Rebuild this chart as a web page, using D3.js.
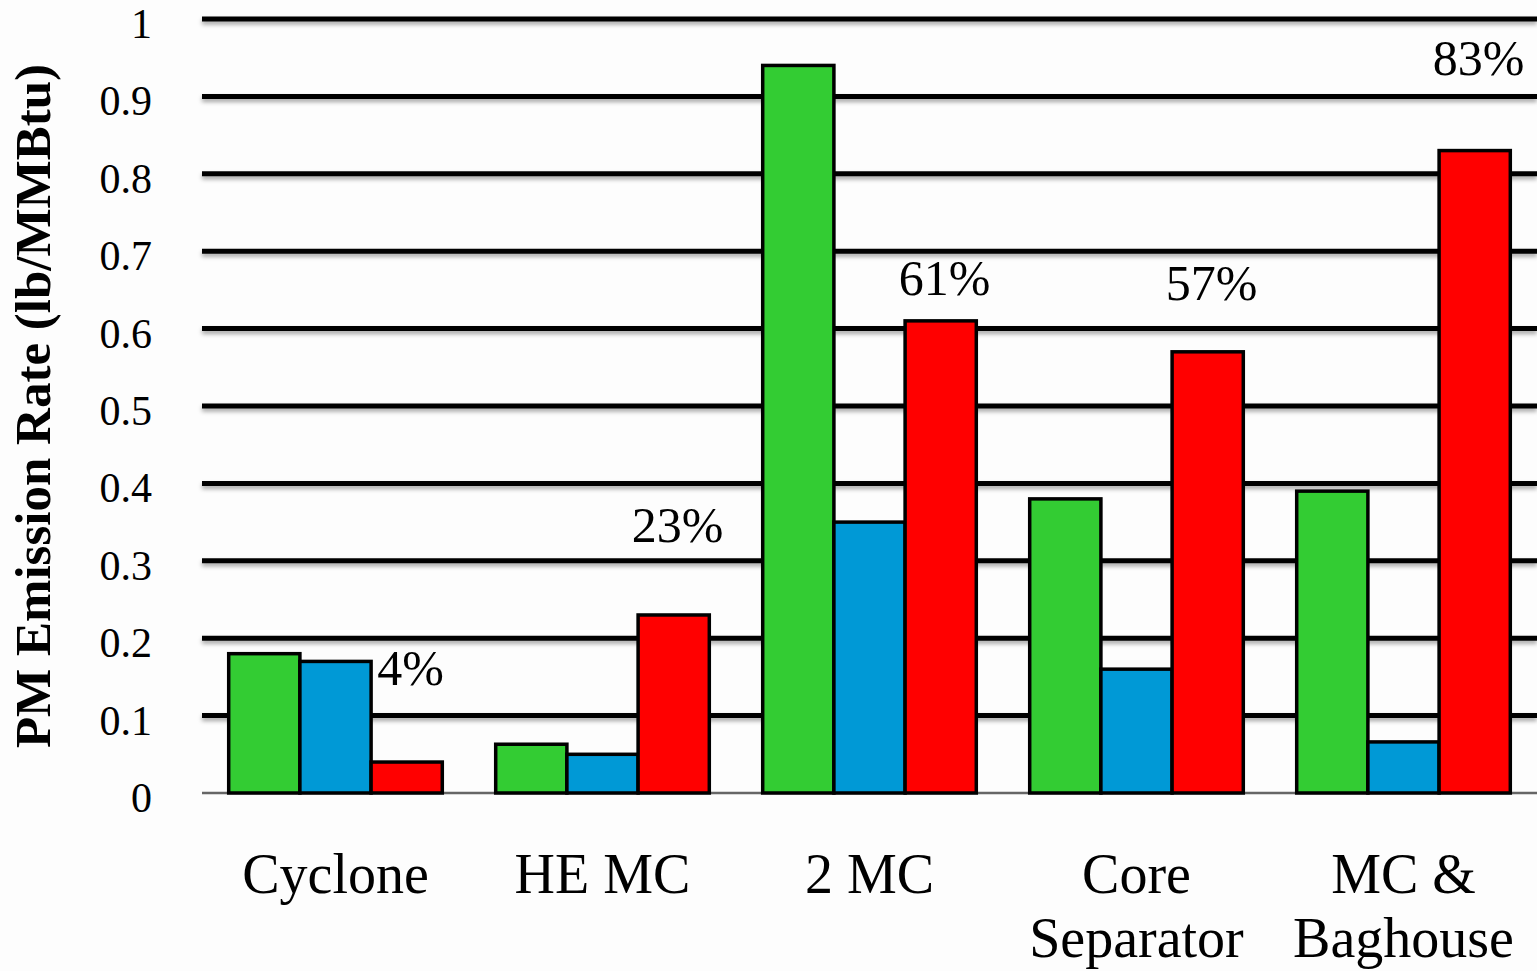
<!DOCTYPE html>
<html>
<head>
<meta charset="utf-8">
<script src="https://cdn.jsdelivr.net/npm/d3@7"></script>
<style>
  html, body { margin: 0; padding: 0; background: #ffffff; }
  svg { display: block; }
</style>
</head>
<body>
<svg id="chart" width="1537" height="971"></svg>
<script>
// ---- data ----
const categories = [["Cyclone"], ["HE MC"], ["2 MC"], ["Core", "Separator"], ["MC &", "Baghouse"]];
const seriesNames = ["Series A", "Series B", "Series C"];
const seriesA = [0.18, 0.063, 0.94, 0.38, 0.39];   // green
const seriesB = [0.17, 0.05, 0.35, 0.16, 0.066];   // blue
const seriesC = [0.04, 0.23, 0.61, 0.57, 0.83];    // red
const pctLabels = ["4%", "23%", "61%", "57%", "83%"];
const pctLabelValue = [0.14, 0.324, 0.643, 0.637, 0.928]; // label baseline level in data units
const yTicks = [0, 0.1, 0.2, 0.3, 0.4, 0.5, 0.6, 0.7, 0.8, 0.9, 1];
const yTickLabels = ["0", "0.1", "0.2", "0.3", "0.4", "0.5", "0.6", "0.7", "0.8", "0.9", "1"];
const yTitle = "PM Emission Rate (lb/MMBtu)";
const colors = ["#33cc33", "#0099d6", "#ff0000"];

// ---- layout ----
const svg = d3.select("#chart");
const W = 1537, H = 971;
const plot = { left: 202, right: 1537, top: 19, bottom: 793 };
const fontSerif = "'Liberation Serif', 'DejaVu Serif', serif";

svg.append("rect").attr("width", W).attr("height", H).attr("fill", "#fdfdfd");

const defs = svg.append("defs");
const flt = defs.append("filter").attr("id", "shadow")
  .attr("filterUnits", "userSpaceOnUse")
  .attr("x", 0).attr("y", 0).attr("width", W).attr("height", H);
flt.append("feDropShadow").attr("dx", 0).attr("dy", 3).attr("stdDeviation", 2)
  .attr("flood-color", "#000").attr("flood-opacity", 0.35);

const y = d3.scaleLinear().domain([0, 1]).range([plot.bottom, plot.top]);
const x0 = d3.scaleBand().domain(d3.range(categories.length)).range([plot.left, plot.right]).padding(0);
const bw = x0.bandwidth();
const x1 = d3.scaleBand().domain(d3.range(seriesNames.length)).range([bw * 0.1, bw * 0.9]).padding(0);

// gridlines (skip 0)
const grid = svg.append("g").attr("filter", "url(#shadow)");
grid.selectAll("line").data(yTicks.filter(d => d > 0)).join("line")
  .attr("x1", plot.left).attr("x2", plot.right)
  .attr("y1", d => y(d)).attr("y2", d => y(d))
  .attr("stroke", "#000").attr("stroke-width", 5);

// zero line
svg.append("line")
  .attr("x1", plot.left).attr("x2", plot.right)
  .attr("y1", y(0)).attr("y2", y(0))
  .attr("stroke", "#666").attr("stroke-width", 2.5);

// y tick labels
svg.append("g").selectAll("text").data(yTicks).join("text")
  .attr("x", 152).attr("y", d => y(d) + 19)
  .attr("text-anchor", "end")
  .attr("font-family", fontSerif).attr("font-size", 42).attr("fill", "#000")
  .text((d, i) => yTickLabels[i]);

// y title
svg.append("text")
  .attr("transform", `translate(50, 406) rotate(-90)`)
  .attr("text-anchor", "middle")
  .attr("font-family", fontSerif).attr("font-weight", "bold")
  .attr("font-size", 51).attr("fill", "#000")
  .text(yTitle);

// bars
const allSeries = [seriesA, seriesB, seriesC];
const groups = svg.append("g").selectAll("g").data(categories).join("g")
  .attr("transform", (d, i) => `translate(${x0(i)},0)`);
groups.selectAll("rect").data((d, i) => allSeries.map((s, k) => ({ k, v: s[i] }))).join("rect")
  .attr("x", d => x1(d.k))
  .attr("width", x1.bandwidth())
  .attr("y", d => y(d.v))
  .attr("height", d => y(0) - y(d.v))
  .attr("fill", d => colors[d.k])
  .attr("stroke", "#000").attr("stroke-width", 3.5)
  .attr("stroke-linejoin", "miter");

// percent labels
svg.append("g").selectAll("text").data(pctLabels).join("text")
  .attr("x", (d, i) => x0(i) + x1(2) + x1.bandwidth() / 2 + 4)
  .attr("y", (d, i) => y(pctLabelValue[i]))
  .attr("text-anchor", "middle")
  .attr("font-family", fontSerif).attr("font-size", 50).attr("fill", "#000")
  .text(d => d);

// category labels
const catG = svg.append("g").selectAll("text").data(categories).join("text")
  .attr("x", (d, i) => x0(i) + bw / 2)
  .attr("y", 893)
  .attr("text-anchor", "middle")
  .attr("font-family", fontSerif).attr("font-size", 56).attr("fill", "#000");
catG.selectAll("tspan").data(d => d).join("tspan")
  .attr("x", function () { return d3.select(this.parentNode).attr("x"); })
  .attr("dy", (d, j) => j === 0 ? 0 : 64)
  .text(d => d);
</script>
</body>
</html>
